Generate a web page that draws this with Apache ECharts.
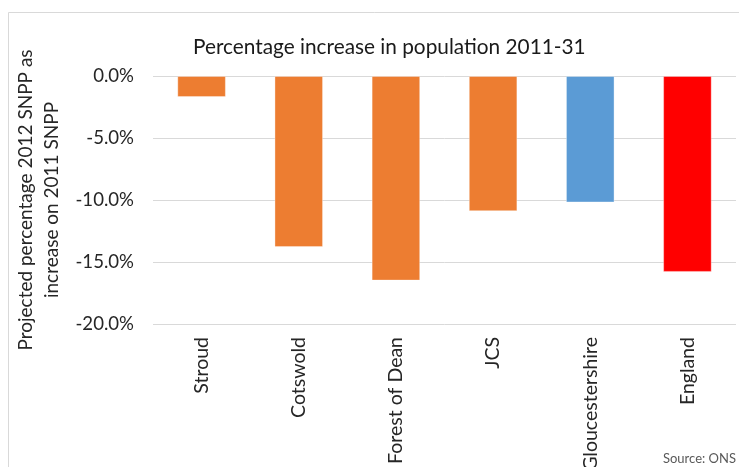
<!DOCTYPE html>
<html>
<head>
<meta charset="utf-8">
<style>
  html, body { margin: 0; padding: 0; background: #fff; }
  #chart { width: 739px; height: 467px; }
</style>
<script src="https://cdn.jsdelivr.net/npm/echarts@6/dist/echarts.min.js"></script>
</head>
<body>
<div id="chart"></div>
<script>
// Projected change in population, 2011-31 (2012 SNPP vs 2011 SNPP)
const areas = ['Stroud', 'Cotswold', 'Forest of Dean', 'JCS', 'Gloucestershire', 'England'];
const changePct = [-1.7, -13.8, -16.5, -10.9, -10.2, -15.8];
const barColors = ['#ED7D31', '#ED7D31', '#ED7D31', '#ED7D31', '#5B9BD5', '#FF0000'];
const yTicks = { min: -20, max: 0, step: 5 };

const FONT = 'Lato';
const chart = echarts.init(document.getElementById('chart'));

chart.setOption({
  animation: false,
  backgroundColor: '#fff',
  title: {
    text: 'Percentage increase in population 2011-31',
    left: 188,
    top: 32,
    textStyle: { fontFamily: FONT, fontSize: 20.8, fontWeight: 'normal', color: '#1a1a1a' }
  },
  grid: {
    left: 153, right: 3, top: 76, bottom: 143,
    containLabel: false,
    outerBoundsMode: 'none'
  },
  xAxis: {
    type: 'category',
    data: areas,
    position: 'bottom',
    axisLine: { show: false },
    axisTick: { show: false },
    axisLabel: {
      rotate: 90,
      margin: 13,
      interval: 0,
      fontFamily: FONT,
      fontSize: 19.5,
      color: '#262626'
    }
  },
  yAxis: {
    type: 'value',
    min: yTicks.min,
    max: yTicks.max,
    interval: yTicks.step,
    name: 'Projected percentage 2012 SNPP as\nincrease on 2011 SNPP',
    nameLocation: 'middle',
    nameRotate: 90,
    nameGap: 85,
    nameTextStyle: { fontFamily: FONT, fontSize: 19, color: '#262626', lineHeight: 26 },
    axisLine: { show: false },
    axisTick: { show: false },
    splitLine: { lineStyle: { color: '#d9d9d9', width: 1 } },
    axisLabel: {
      margin: 19,
      fontFamily: FONT,
      fontSize: 18.6,
      color: '#262626',
      formatter: v => v.toFixed(1) + '%'
    }
  },
  series: [{
    type: 'bar',
    barWidth: '50%',
    data: changePct.map((v, i) => ({
      value: v,
      itemStyle: { color: barColors[i], borderColor: 'rgba(255,255,255,0.35)', borderWidth: 1 }
    }))
  }],
  graphic: [
    {
      type: 'rect',
      silent: true,
      z: -1,
      shape: { x: 8.5, y: 12.5, width: 800, height: 600 },
      style: { fill: 'none', stroke: '#d9d9d9', lineWidth: 1 }
    },
    {
      type: 'text',
      right: 3,
      bottom: 2,
      style: { text: 'Source: ONS', fontFamily: FONT, fontSize: 13, fill: '#595959' }
    }
  ]
});
</script>
</body>
</html>
